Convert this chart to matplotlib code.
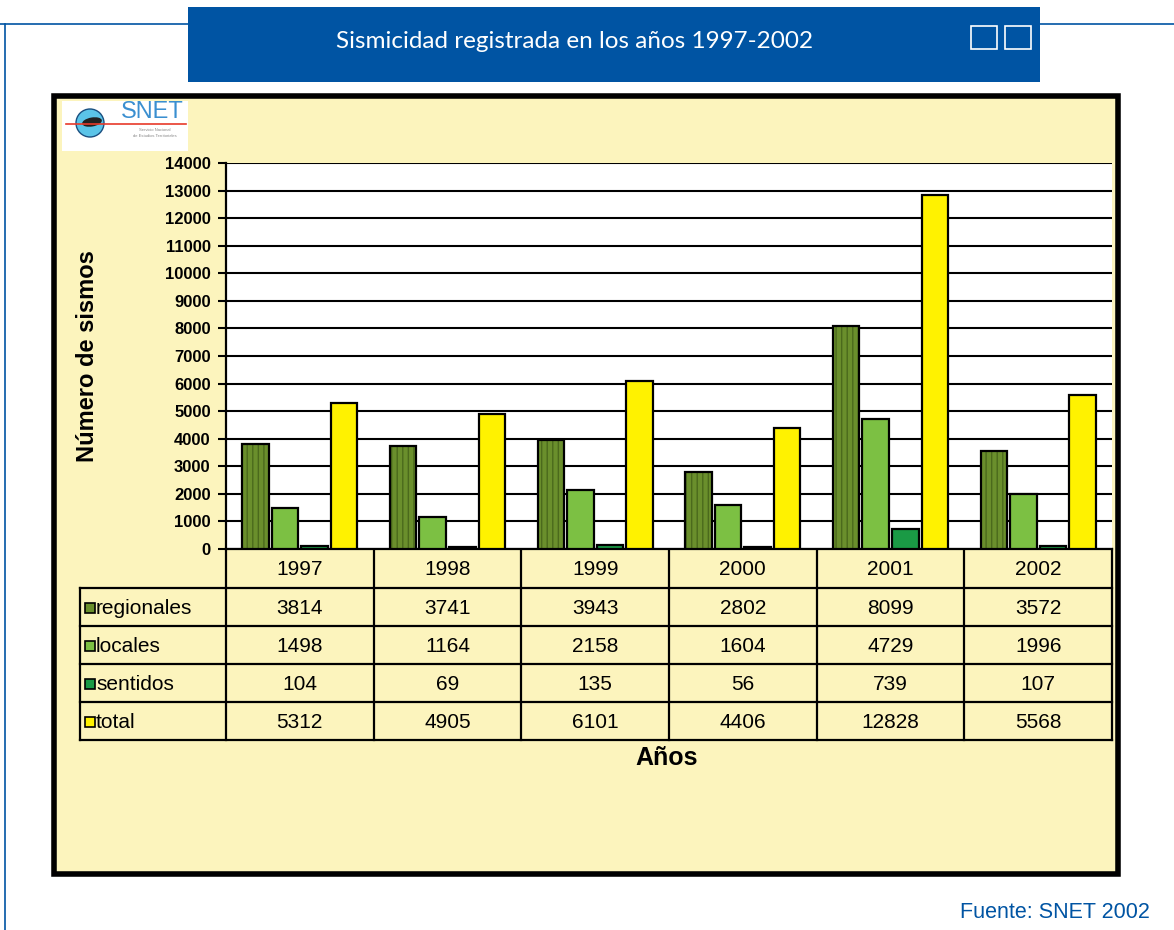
import matplotlib.pyplot as plt
import matplotlib.patches as mpatches
import numpy as np

plt.rcParams['font.family'] = ['Liberation Sans', 'DejaVu Sans']
plt.rcParams['hatch.linewidth'] = 1.0

anios = ['1997', '1998', '1999', '2000', '2001', '2002']
regionales = [3814, 3741, 3943, 2802, 8099, 3572]
locales = [1498, 1164, 2158, 1604, 4729, 1996]
sentidos = [104, 69, 135, 56, 739, 107]
total = [5312, 4905, 6101, 4406, 12828, 5568]

series_names = ['regionales', 'locales', 'sentidos', 'total']
series_vals = [regionales, locales, sentidos, total]
series_colors = ['#6a8f2c', '#7cc043', '#1a9a45', '#fff200']
series_hatch = ['|||', None, None, None]

W, H = 1174, 930
blue = '#0054a3'
panel_bg = '#fcf4bd'

fig = plt.figure(figsize=(W / 100, H / 100), dpi=100)
fig.patch.set_facecolor('white')

# overlay in pixel coordinates for the decoration and the table
ov = fig.add_axes([0, 0, 1, 1], zorder=0)
ov.set_xlim(0, W)
ov.set_ylim(H, 0)
ov.axis('off')

# page frame
ov.plot([0, W], [24, 24], color=blue, lw=1.2)
ov.plot([5, 5], [24, H], color=blue, lw=1.2)

# title box
ov.add_patch(mpatches.Rectangle((188, 7), 852, 75, facecolor=blue, edgecolor='none'))
ov.text(575, 41, 'Sismicidad registrada en los años 1997-2002', color='white',
        fontsize=17.5, family=['Lato', 'DejaVu Sans'], fontweight='normal',
        ha='center', va='center')
for x0 in (971, 1005):
    ov.add_patch(mpatches.Rectangle((x0, 26), 26, 23, facecolor='none',
                                    edgecolor='white', lw=1.2))

# chart panel
ov.add_patch(mpatches.Rectangle((54, 96), 1064, 778, facecolor=panel_bg,
                                edgecolor='black', lw=4))

# logo
ov.add_patch(mpatches.Rectangle((62, 101), 126, 50, facecolor='white', edgecolor='none'))
ov.add_patch(mpatches.Circle((90, 123), 14, facecolor='#5bc4e8', edgecolor='#1a4f80', lw=1))
ov.add_patch(mpatches.Ellipse((92, 122), 20, 9, angle=-10, facecolor='#222222'))
ov.plot([66, 186], [124, 124], color='#e83a2a', lw=1.2)
ov.text(152, 112, 'SNET', color='#3a8fd0', fontsize=17, ha='center', va='center')
ov.text(155, 130, 'Servicio Nacional', color='#888888', fontsize=3, ha='center', va='center')
ov.text(155, 136, 'de Estudios Territoriales', color='#888888', fontsize=3, ha='center', va='center')

# bar axes
left, right, top, bottom = 226, 1112, 163, 549
ax = fig.add_axes([left / W, (H - bottom) / H, (right - left) / W, (bottom - top) / H], zorder=2)
ax.set_facecolor('white')
x = np.arange(len(anios))
bw = 0.18
for i, (vals, col, hat) in enumerate(zip(series_vals, series_colors, series_hatch)):
    pos = x + (i - 1.5) * 0.2
    if hat:
        ax.bar(pos, vals, bw, color=col, hatch=hat, edgecolor='#4b6a1c', lw=0, zorder=3)
        ax.bar(pos, vals, bw, fill=False, edgecolor='black', lw=1.6, zorder=4)
    else:
        ax.bar(pos, vals, bw, color=col, edgecolor='black', lw=1.6, zorder=3)
ax.set_xlim(-0.5, len(anios) - 0.5)
ax.set_ylim(0, 14000)
ax.set_yticks(np.arange(0, 14001, 1000))
ax.yaxis.grid(True, color='black', lw=1.5)
ax.set_axisbelow(True)
ax.set_xticks([])
for s in ('top', 'right'):
    ax.spines[s].set_visible(False)
ax.spines['left'].set_linewidth(1.6)
ax.spines['bottom'].set_linewidth(1.6)
ax.tick_params(axis='y', length=6, width=1.5, pad=5)
for lab in ax.get_yticklabels():
    lab.set_fontweight('bold')
    lab.set_fontsize(12)

ov.text(88, 356, 'Número de sismos', rotation=90, fontsize=17, fontweight='bold',
        ha='center', va='center')

# data table under the bars
colw = (right - left) / len(anios)
row_y = [549, 588, 626, 664, 702, 740]
tkw = dict(color='black', lw=1.6)
for k in range(len(anios) + 1):
    ov.plot([left + k * colw] * 2, [549, 740], **tkw)
ov.plot([80, 80], [588, 740], **tkw)
for yy in row_y[1:]:
    ov.plot([80, right], [yy, yy], **tkw)
fs = 15
for k, a in enumerate(anios):
    ov.text(left + (k + 0.5) * colw, (row_y[0] + row_y[1]) / 2 + 1, a, fontsize=fs,
            ha='center', va='center')
for r, (name, vals, col) in enumerate(zip(series_names, series_vals, series_colors)):
    yc = (row_y[r + 1] + row_y[r + 2]) / 2 + 1
    ov.add_patch(mpatches.Rectangle((85, yc - 5), 10, 10, facecolor=col, edgecolor='black', lw=1.2))
    ov.text(96, yc, name, fontsize=fs, ha='left', va='center')
    for k, v in enumerate(vals):
        ov.text(left + (k + 0.5) * colw, yc, str(v), fontsize=fs, ha='center', va='center')

ov.text(667, 758, 'Años', fontsize=18, fontweight='bold', ha='center', va='center')
ov.text(1150, 912, 'Fuente: SNET 2002', color=blue, fontsize=15.5, ha='right', va='center')

fig.savefig('out.png', dpi=100)
